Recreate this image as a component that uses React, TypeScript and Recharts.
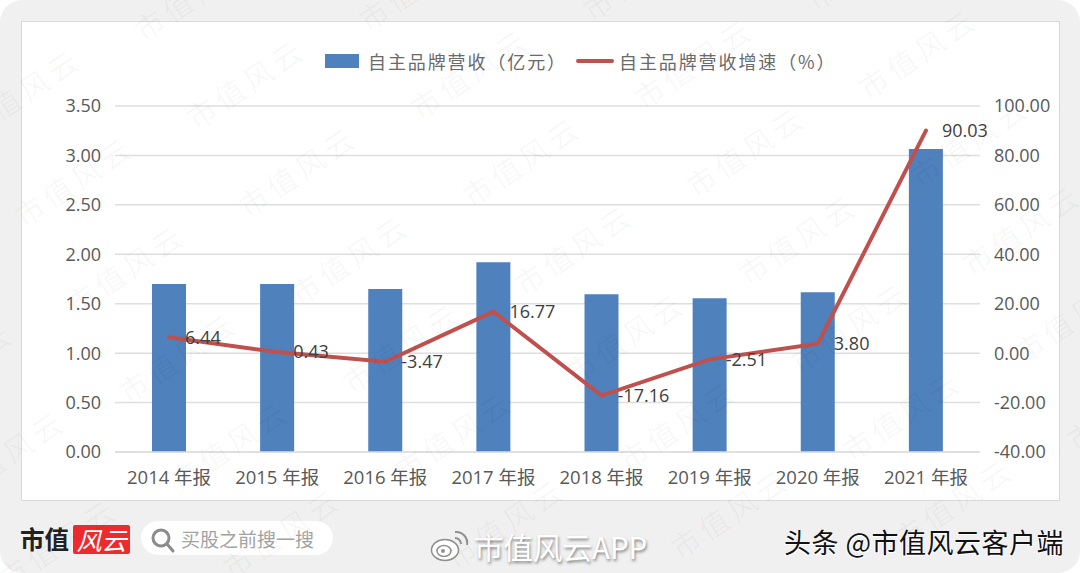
import { ComposedChart, Bar, Line, XAxis, YAxis, CartesianGrid, Legend, LabelList } from 'recharts';

const categories = ['2014 年报', '2015 年报', '2016 年报', '2017 年报', '2018 年报', '2019 年报', '2020 年报', '2021 年报'];
const revenue = [1.7, 1.7, 1.65, 1.92, 1.595, 1.555, 1.615, 3.065];
const growth = [6.44, 0.43, -3.47, 16.77, -17.16, -2.51, 3.8, 90.03];
const leftTicks = [0, 0.5, 1, 1.5, 2, 2.5, 3, 3.5];
const rightTicks = [-40, -20, 0, 20, 40, 60, 80, 100];

const chartData = categories.map((name, i) => ({ name, revenue: revenue[i], growth: growth[i] }));

const BLUE = '#4f81bd';
const RED = '#c0504d';
const FONT = '"Open Sans", "Noto Sans CJK SC", sans-serif';
const CJK = '"Noto Sans CJK SC", sans-serif';
const tickStyle = { fontSize: 18, fill: '#595959', fontFamily: FONT };

// 水印网格
const wmRows = [-2, -1, 0, 1, 2, 3, 4, 5];
const wmCols = [-3, -2, -1, 0, 1, 2, 3, 4, 5];

function Watermarks() {
  const marks: { x: number; y: number }[] = [];
  wmRows.forEach(r => wmCols.forEach(c => {
    const x = 245 + c * 224 + r * 52;
    const y = 82 - c * 10 + r * 88;
    if (x > -80 && x < 1160 && y > -50 && y < 620) marks.push({ x, y });
  }));
  return (
    <div style={{ position: 'absolute', left: 0, top: 0, width: 1080, height: 573, overflow: 'hidden', pointerEvents: 'none' }}>
      {marks.map((m, i) => (
        <span
          key={i}
          style={{
            position: 'absolute', left: m.x - 80, top: m.y - 20, width: 160, height: 40, lineHeight: '40px',
            textAlign: 'center', fontFamily: CJK, fontSize: 29, letterSpacing: 5, whiteSpace: 'nowrap',
            color: 'rgba(0,0,0,0.035)', transform: 'rotate(-34deg)',
          }}
        >
          市值风云
        </span>
      ))}
    </div>
  );
}

function renderLegend(props: any) {
  const items = props.payload || [];
  return (
    <div style={{ display: 'flex', alignItems: 'center', fontFamily: CJK, fontSize: 18, letterSpacing: 1.9, color: '#6a6a6a', whiteSpace: 'nowrap' }}>
      {items.map((item: any, i: number) => (
        <div key={item.value} style={{ display: 'flex', alignItems: 'center' }}>
          {i === 0
            ? <div style={{ width: 34, height: 14, background: item.color, marginRight: 9 }} />
            : <div style={{ width: 38, height: 4, borderRadius: 2, background: item.color, marginLeft: 9, marginRight: 5 }} />}
          <span>{item.value}</span>
        </div>
      ))}
    </div>
  );
}

function Footer() {
  return (
    <>
      <div style={{ position: 'absolute', left: 20, top: 522, fontFamily: CJK, fontWeight: 700, fontSize: 24.5, lineHeight: '34px', color: '#222', whiteSpace: 'nowrap' }}>市值</div>
      <div style={{ position: 'absolute', left: 73, top: 525, width: 57, height: 29, background: '#ee2a2e', borderRadius: 2, color: '#fff', fontFamily: CJK, fontSize: 25, lineHeight: '28px', fontStyle: 'italic', textAlign: 'center', whiteSpace: 'nowrap' }}>风云</div>
      <div style={{ position: 'absolute', left: 141, top: 521, width: 192, height: 34, borderRadius: 17, background: '#fff' }} />
      <svg width={26} height={28} style={{ position: 'absolute', left: 150, top: 527 }}>
        <circle cx={11} cy={11} r={8} fill="none" stroke="#8c8c8c" strokeWidth={3} />
        <line x1={17} y1={17} x2={23} y2={24} stroke="#8c8c8c" strokeWidth={3} strokeLinecap="round" />
      </svg>
      <div style={{ position: 'absolute', left: 181, top: 524, fontFamily: CJK, fontSize: 19, lineHeight: '30px', color: '#a3a3a3', whiteSpace: 'nowrap' }}>买股之前搜一搜</div>
      <svg width={40} height={34} style={{ position: 'absolute', left: 430, top: 529 }}>
        <ellipse cx={15} cy={21} rx={13.5} ry={10.5} fill="#fff" stroke="#8f8f8f" strokeWidth={1.5} />
        <ellipse cx={14} cy={22} rx={7} ry={5.5} fill="none" stroke="#8f8f8f" strokeWidth={1.5} />
        <circle cx={13} cy={22} r={2} fill="#8f8f8f" />
        <path d="M25 3 A11 11 0 0 1 37 16" fill="none" stroke="#8f8f8f" strokeWidth={2} />
        <path d="M25 9 A6 6 0 0 1 31 15" fill="none" stroke="#8f8f8f" strokeWidth={2} />
      </svg>
      <div style={{ position: 'absolute', left: 474, top: 527, fontFamily: CJK, fontSize: 29.5, lineHeight: '38px', color: '#fff', textShadow: '1px 2px 3px rgba(0,0,0,0.45)', whiteSpace: 'nowrap' }}>市值风云APP</div>
      <div style={{ position: 'absolute', left: 784, top: 523, fontFamily: CJK, fontSize: 27, lineHeight: '38px', letterSpacing: 0.5, color: '#111', textShadow: '1px 1px 0 #fff, -1px 1px 0 #fff', whiteSpace: 'pre' }}>头条 @市值风云客户端</div>
    </>
  );
}

export default function App() {
  return (
    <div style={{ position: 'absolute', left: 0, top: 0, width: 1080, height: 573, background: '#fff', overflow: 'hidden' }}>
      <div style={{ position: 'absolute', inset: 0, background: '#f0f0f0', borderRadius: 22 }} />
      <div style={{ position: 'absolute', left: 21, top: 21, width: 1037, height: 478, background: '#fff', border: '1px solid #d9d9d9' }} />
      <div style={{ position: 'absolute', left: 0, top: 0 }}>
        <ComposedChart width={1080} height={573} data={chartData} margin={{ top: 106, right: 0, bottom: 0, left: 0 }}>
          <CartesianGrid yAxisId="left" vertical={false} stroke="#dedede" strokeWidth={1.5} />
          <XAxis dataKey="name" tick={{ ...tickStyle, fontSize: 18.5 }} tickLine={false} axisLine={{ stroke: '#dedede', strokeWidth: 1.5 }} height={121} tickSize={0} tickMargin={19} interval={0} />
          <YAxis yAxisId="left" orientation="left" width={115} domain={[0, 3.5]} ticks={leftTicks} tick={tickStyle} tickFormatter={(v: number) => v.toFixed(2)} tickLine={false} axisLine={false} tickSize={0} tickMargin={14} />
          <YAxis yAxisId="right" orientation="right" width={100} domain={[-40, 100]} ticks={rightTicks} tick={tickStyle} tickFormatter={(v: number) => v.toFixed(2)} tickLine={false} axisLine={false} tickSize={0} tickMargin={14} />
          <Legend verticalAlign="middle" itemSorter={null} content={renderLegend} wrapperStyle={{ left: 325, top: 48, width: 'auto' }} />
          <Bar yAxisId="left" dataKey="revenue" name="自主品牌营收（亿元）" fill={BLUE} barSize={34} isAnimationActive={false} />
          <Line yAxisId="right" dataKey="growth" name="自主品牌营收增速（%）" stroke={RED} strokeWidth={4} strokeLinecap="round" dot={false} isAnimationActive={false}>
            <LabelList dataKey="growth" position="right" offset={16} formatter={(v: any) => Number(v).toFixed(2)} style={{ fontSize: 18, fill: '#404040', fontFamily: FONT }} />
          </Line>
        </ComposedChart>
      </div>
      <Footer />
      <Watermarks />
    </div>
  );
}
